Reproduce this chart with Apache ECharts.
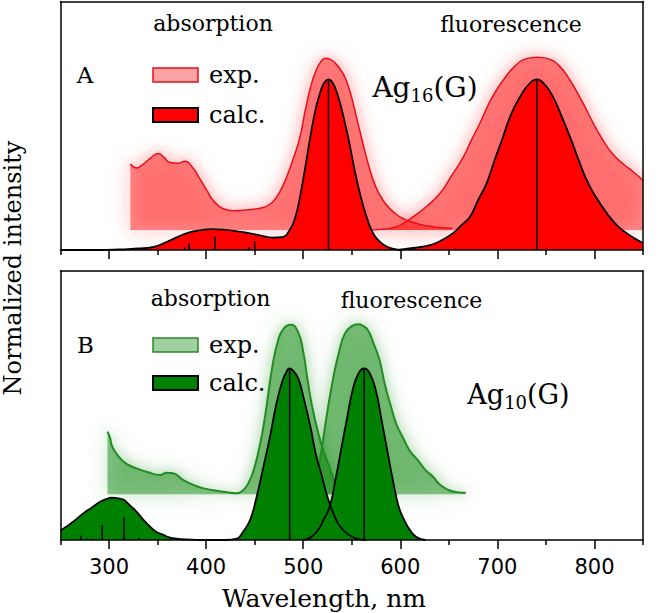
<!DOCTYPE html>
<html>
<head>
<meta charset="utf-8">
<script src="https://cdn.jsdelivr.net/npm/echarts@6/dist/echarts.min.js"></script>
<style>html,body{margin:0;padding:0;background:#fff;}#chart{width:658px;height:613px;}</style>
</head>
<body>
<div id="chart"></div>
<script>
// ---- tick values ----
const majorTicks = [300, 400, 500, 600, 700, 800];
const minorTicks = [250, 350, 450, 550, 650, 750, 850];

// ---- Panel A: Ag16(G) (wavelength nm, normalized intensity) ----
const aExpAbs = [[322,0.346],[328.5,0.33],[335,0.345],[342,0.368],[350.8,0.388],[356,0.375],[362.8,0.352],[371.4,0.349],[378.2,0.357],[386.8,0.328],[393,0.29],[400.6,0.241],[407,0.2],[414.3,0.174],[421,0.162],[428,0.158],[441.8,0.161],[458.9,0.171],[466,0.185],[472.7,0.214],[478,0.25],[483,0.294],[490,0.37],[496.7,0.455],[502,0.56],[507.6,0.656],[513,0.72],[518,0.757],[523,0.772],[528,0.767],[533,0.752],[538,0.728],[543,0.695],[548,0.64],[553,0.565],[558.9,0.47],[566,0.36],[574.7,0.254],[584,0.19],[594.4,0.148],[604,0.124],[614.2,0.11],[624,0.1],[633.9,0.094],[643,0.09],[653.6,0.088]];
const aExpFluo = [[567,0.08],[580,0.083],[589.4,0.087],[600,0.1],[613.4,0.134],[627,0.175],[641,0.228],[653,0.3],[665,0.375],[673,0.44],[682,0.51],[694,0.61],[706,0.683],[718,0.74],[730,0.77],[740.6,0.776],[752,0.77],[764,0.74],[774.8,0.683],[787,0.6],[798.8,0.51],[809,0.44],[819,0.385],[830,0.345],[840,0.315],[850,0.28]];
const aCalcAbs = [[250,0],[290,0],[310,0.002],[330,0.006],[346,0.013],[358,0.03],[369,0.05],[382,0.07],[395,0.08],[405,0.084],[418,0.082],[436,0.073],[452,0.062],[468,0.05],[478,0.052],[486,0.08],[492,0.134],[497,0.22],[502,0.33],[508,0.47],[513,0.57],[518,0.64],[522,0.675],[526,0.687],[530,0.675],[535,0.63],[540,0.56],[547,0.44],[552,0.34],[557,0.25],[562,0.175],[566,0.125],[570,0.083],[576,0.045],[584,0.018],[592,0.006],[602,0]];
const aCalcFluo = [[598,0],[613,0.008],[630.6,0.02],[643,0.04],[654.3,0.068],[663,0.1],[671.8,0.134],[680,0.2],[689,0.269],[697,0.36],[705.8,0.455],[714,0.545],[723.3,0.616],[732,0.665],[740.6,0.687],[749,0.665],[757.3,0.616],[766,0.54],[774.8,0.455],[783,0.37],[792,0.281],[802,0.21],[812.6,0.149],[823,0.1],[833.2,0.068],[842,0.045],[850,0.028]];
const aSticks = [[378,0.01],[382.6,0.027],[409,0.053],[444,0.012],[450,0.036],[526,0.687],[740.6,0.687]];
const aExpBase = 0.08;

// ---- Panel B: Ag10(G) ----
const bExpAbs = [[298.4,0.403],[301,0.38],[302.7,0.353],[306,0.33],[311.3,0.304],[318,0.283],[328.5,0.266],[340,0.252],[352.5,0.242],[359.4,0.25],[366,0.248],[376.5,0.223],[390.3,0.2],[400,0.19],[411,0.183],[421,0.178],[431.5,0.174],[438.3,0.186],[444,0.215],[449,0.26],[454,0.33],[458,0.4],[462,0.49],[468,0.64],[474,0.74],[480,0.787],[487.5,0.8],[495,0.77],[500,0.7],[504,0.607],[509,0.5],[515.5,0.397],[521,0.33],[527,0.272],[531,0.23],[535,0.19],[540,0.172]];
const bExpFluo = [[511.5,0.17],[515,0.25],[519.4,0.347],[525,0.48],[531.2,0.607],[537,0.7],[543,0.768],[550,0.795],[556.8,0.802],[562,0.795],[566.7,0.78],[572,0.735],[578.6,0.669],[584,0.58],[590.4,0.496],[596,0.43],[602.3,0.384],[610,0.33],[618,0.297],[626,0.26],[633.7,0.235],[641,0.205],[649.7,0.186],[658,0.178],[667.4,0.176]];
const bCalcAbs = [[250,0.035],[262,0.065],[273.5,0.099],[282,0.12],[290.7,0.142],[297,0.152],[302.7,0.157],[309,0.155],[314.7,0.15],[321,0.13],[328.5,0.105],[335,0.077],[342.2,0.05],[349,0.03],[356,0.019],[362,0.01],[369.7,0.005],[380,0.002],[395,0],[420,0],[431.5,0.005],[438,0.03],[445.2,0.074],[452,0.16],[459,0.272],[465.8,0.384],[472,0.5],[478,0.585],[482,0.62],[486,0.638],[490,0.628],[495,0.6],[501,0.52],[507.5,0.42],[513,0.32],[519.4,0.235],[525,0.16],[531,0.1],[538,0.05],[547,0.019],[555,0.005],[565,0]];
const bCalcFluo = [[500,0],[508,0.01],[515.3,0.037],[521,0.075],[527.3,0.124],[533,0.22],[539,0.335],[545,0.45],[551,0.558],[557,0.62],[562.8,0.638],[568.5,0.62],[574.7,0.558],[580.5,0.45],[586.5,0.335],[592.5,0.22],[598.4,0.124],[604,0.075],[610,0.037],[617,0.01],[626,0]];
const bSticks = [[270.8,0.016],[277,0.005],[282,0.005],[293,0.056],[315.4,0.084],[331,0.007],[486,0.638],[562.8,0.638]];
const bExpBase = 0.17;

const SERIF = 'DejaVu Serif';
const SANS = 'DejaVu Sans';

const chart = echarts.init(document.getElementById('chart'), null, {renderer: 'svg'});

function xAxesFor(gi, withLabels) {
  const line = {color: '#000', width: 1.5};
  return [
    {gridIndex: gi, type: 'value', min: 250, max: 850, position: 'bottom', z: 10,
     axisLine: {show: true, lineStyle: line},
     axisTick: {show: true, customValues: majorTicks, length: 9, lineStyle: line},
     axisLabel: withLabels ? {show: true, customValues: majorTicks, fontFamily: SANS, fontSize: 21, color: '#000', margin: 16} : {show: false},
     splitLine: {show: false}},
    {gridIndex: gi, type: 'value', min: 250, max: 850, position: 'bottom', z: 10,
     axisLine: {show: false},
     axisTick: {show: true, customValues: minorTicks, length: 5, lineStyle: line},
     axisLabel: {show: false}, splitLine: {show: false}},
    {gridIndex: gi, type: 'value', min: 250, max: 850, position: 'top', z: 10,
     axisLine: {show: true, lineStyle: line}, axisTick: {show: false},
     axisLabel: {show: false}, splitLine: {show: false}}
  ];
}
function yAxesFor(gi) {
  const line = {color: '#000', width: 1.5};
  return ['left', 'right'].map(p => ({gridIndex: gi, type: 'value', min: 0, max: 1, position: p, z: 10,
    axisLine: {show: true, onZero: false, lineStyle: line}, axisTick: {show: false},
    axisLabel: {show: false}, splitLine: {show: false}}));
}

function expSeries(name, data, xi, yi, base, fill, lineColor, glow, lw) {
  return {name: name, type: 'line', xAxisIndex: xi, yAxisIndex: yi, data: data,
    smooth: 0.5, showSymbol: false, z: 2, silent: true,
    lineStyle: {color: lineColor, width: lw, shadowBlur: 10, shadowColor: glow},
    itemStyle: {color: fill},
    areaStyle: {color: fill, origin: base, opacity: 1, shadowBlur: 20, shadowColor: glow}};
}
function calcSeries(name, data, xi, yi, fill) {
  return {name: name, type: 'line', xAxisIndex: xi, yAxisIndex: yi, data: data,
    smooth: 0.5, showSymbol: false, z: 3, silent: true,
    lineStyle: {color: '#000', width: 1.8},
    itemStyle: {color: fill},
    areaStyle: {color: fill, opacity: 1}};
}
function stickSeries(name, data, xi, yi) {
  return {name: name, type: 'custom', xAxisIndex: xi, yAxisIndex: yi, data: data, z: 4, silent: true,
    encode: {x: 0, y: 1},
    renderItem: function (params, api) {
      const p0 = api.coord([api.value(0), 0]);
      const p1 = api.coord([api.value(0), api.value(1)]);
      return {type: 'line', shape: {x1: p0[0], y1: p0[1], x2: p1[0], y2: p1[1]},
        style: {stroke: '#000', lineWidth: 1.5}};
    }};
}

const redLight = 'rgba(255,0,0,0.48)';
const greenLight = 'rgba(0,128,0,0.45)';

const option = {
  animation: false,
  backgroundColor: '#fff',
  grid: [
    {left: 60.5, right: 15, top: 1.5, height: 248.5},
    {left: 60.5, right: 15, top: 271, height: 269}
  ],
  xAxis: xAxesFor(0, false).concat(xAxesFor(1, true)),
  yAxis: yAxesFor(0).concat(yAxesFor(1)),
  legend: [
    {left: 147, top: 57, orient: 'vertical', icon: 'rect', itemWidth: 45, itemHeight: 14, itemGap: 14,
     selectedMode: false, formatter: n => n.split(' ')[0],
     textStyle: {fontFamily: SERIF, fontSize: 24, color: '#000', lineHeight: 26, padding: [0, 0, 0, 6]},
     data: [
       {name: 'exp. A', itemStyle: {color: '#ffa4a4', borderColor: '#e8101a', borderWidth: 1.5}},
       {name: 'calc. A', itemStyle: {color: '#ff0000', borderColor: '#000', borderWidth: 2}}
     ]},
    {left: 147, top: 327, orient: 'vertical', icon: 'rect', itemWidth: 45, itemHeight: 14, itemGap: 12,
     selectedMode: false, formatter: n => n.split(' ')[0],
     textStyle: {fontFamily: SERIF, fontSize: 24, color: '#000', lineHeight: 26, padding: [0, 0, 0, 6]},
     data: [
       {name: 'exp. B', itemStyle: {color: '#a0cfa0', borderColor: '#2a8a2a', borderWidth: 1.5}},
       {name: 'calc. B', itemStyle: {color: '#008000', borderColor: '#000', borderWidth: 2}}
     ]}
  ],
  graphic: [
    {type: 'text', x: 13, y: 268, rotation: Math.PI / 2, style: {text: 'Normalized intensity', fontFamily: SERIF, fontSize: 24, fill: '#000', align: 'center', verticalAlign: 'middle'}},
    {type: 'text', x: 324, y: 598, style: {text: 'Wavelength, nm', fontFamily: SERIF, fontSize: 25, fill: '#000', align: 'center', verticalAlign: 'middle'}},
    {type: 'text', x: 85, y: 75, style: {text: 'A', fontFamily: SERIF, fontSize: 23, fill: '#000', align: 'center', verticalAlign: 'middle'}},
    {type: 'text', x: 85.5, y: 345, style: {text: 'B', fontFamily: SERIF, fontSize: 23, fill: '#000', align: 'center', verticalAlign: 'middle'}},
    {type: 'text', x: 213, y: 23, style: {text: 'absorption', fontFamily: SERIF, fontSize: 22, fill: '#000', align: 'center', verticalAlign: 'middle'}},
    {type: 'text', x: 511, y: 24, style: {text: 'fluorescence', fontFamily: SERIF, fontSize: 22, fill: '#000', align: 'center', verticalAlign: 'middle'}},
    {type: 'text', x: 210.5, y: 298, style: {text: 'absorption', fontFamily: SERIF, fontSize: 22, fill: '#000', align: 'center', verticalAlign: 'middle'}},
    {type: 'text', x: 411.5, y: 300, style: {text: 'fluorescence', fontFamily: SERIF, fontSize: 22, fill: '#000', align: 'center', verticalAlign: 'middle'}},
    {type: 'text', x: 425, y: 87, style: {text: '{a|Ag}{s|16}{a|(G)}', align: 'center', verticalAlign: 'middle', fill: '#000',
      rich: {a: {fontFamily: SERIF, fontSize: 28, fill: '#000'}, s: {fontFamily: SERIF, fontSize: 18, fill: '#000', padding: [16, 0, 0, 0]}}}},
    {type: 'text', x: 518.5, y: 394, style: {text: '{a|Ag}{s|10}{a|(G)}', align: 'center', verticalAlign: 'middle', fill: '#000',
      rich: {a: {fontFamily: SERIF, fontSize: 27, fill: '#000'}, s: {fontFamily: SERIF, fontSize: 18, fill: '#000', padding: [16, 0, 0, 0]}}}}
  ],
  series: [
    expSeries('exp. A', aExpAbs, 0, 0, aExpBase, redLight, '#e8101a', 'rgba(255,40,40,0.55)', 1.5),
    expSeries('exp. A', aExpFluo, 0, 0, aExpBase, redLight, '#e8101a', 'rgba(255,40,40,0.55)', 1.5),
    calcSeries('calc. A', aCalcAbs, 0, 0, '#ff0000'),
    calcSeries('calc. A', aCalcFluo, 0, 0, '#ff0000'),
    stickSeries('sticks A', aSticks, 0, 0),
    expSeries('exp. B', bExpAbs, 3, 2, bExpBase, greenLight, '#228b22', 'rgba(0,128,0,0.5)', 2),
    expSeries('exp. B', bExpFluo, 3, 2, bExpBase, greenLight, '#228b22', 'rgba(0,128,0,0.5)', 2),
    calcSeries('calc. B', bCalcAbs, 3, 2, '#008000'),
    calcSeries('calc. B', bCalcFluo, 3, 2, '#008000'),
    stickSeries('sticks B', bSticks, 3, 2)
  ]
};
chart.setOption(option);
</script>
</body>
</html>
